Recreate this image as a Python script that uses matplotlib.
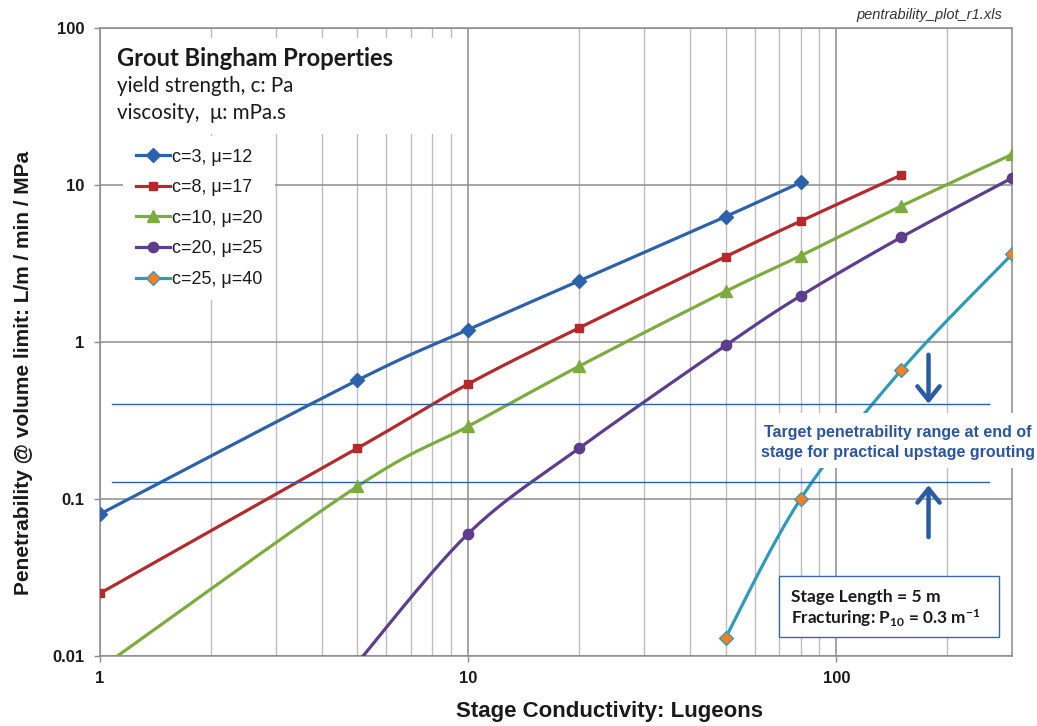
import numpy as np
import matplotlib
matplotlib.use("Agg")
import matplotlib.pyplot as plt
from matplotlib.patches import Rectangle, FancyArrowPatch
from matplotlib.ticker import LogLocator, FixedLocator, NullFormatter, FixedFormatter

plt.rcParams['font.family'] = ['Liberation Sans', 'DejaVu Sans']
plt.rcParams['mathtext.fontset'] = 'custom'
plt.rcParams['mathtext.bf'] = 'Lato:bold'
plt.rcParams['mathtext.rm'] = 'Lato:bold'
plt.rcParams['mathtext.default'] = 'bf'

# ---- data -------------------------------------------------------------
labels = ["c=3, \u03bc=12", "c=8, \u03bc=17", "c=10, \u03bc=20",
          "c=20, \u03bc=25", "c=25, \u03bc=40"]

x_c3 = [1, 5, 10, 20, 50, 80]
y_c3 = [0.08, 0.57, 1.2, 2.45, 6.3, 10.4]

x_c8 = [1, 5, 10, 20, 50, 80, 150]
y_c8 = [0.025, 0.21, 0.54, 1.23, 3.5, 5.9, 11.6]

x_c10 = [1, 5, 10, 20, 50, 80, 150, 300]
y_c10 = [0.0083, 0.12, 0.29, 0.70, 2.1, 3.55, 7.35, 15.7]

x_c20 = [5, 10, 20, 50, 80, 150, 300]
y_c20 = [0.009, 0.06, 0.21, 0.95, 1.97, 4.65, 11.1]

x_c25 = [50, 80, 150, 300]
y_c25 = [0.013, 0.1, 0.66, 3.63]

target_x = [1.08, 260]
target_upper = 0.40
target_lower = 0.128

x_ticks = [1, 10, 100]
x_ticklabels = ["1", "10", "100"]
y_ticks = [0.01, 0.1, 1, 10, 100]
y_ticklabels = ["0.01", "0.1", "1", "10", "100"]

# ---- styles -----------------------------------------------------------
series = [
    (x_c3, y_c3, dict(color='#2B62AB', marker='D', ms=7.2, mfc='#2B62AB', mec='#2B62AB')),
    (x_c8, y_c8, dict(color='#B42A2C', marker='s', ms=6.2, mfc='#B42A2C', mec='#B42A2C')),
    (x_c10, y_c10, dict(color='#7EAB3D', marker='^', ms=8.2, mfc='#7EAB3D', mec='#7EAB3D')),
    (x_c20, y_c20, dict(color='#5D3D8E', marker='o', ms=7.4, mfc='#5D3D8E', mec='#5D3D8E')),
    (x_c25, y_c25, dict(color='#2E9BB8', marker='D', ms=7.2, mfc='#F07F26', mec='#2E9BB8', mew=0.9)),
]


def smooth(xs, ys, n=40):
    """Excel-style smoothed line (Catmull-Rom Bezier) in log-log space."""
    lx = np.log10(xs)
    ly = np.log10(ys)
    P = np.column_stack([lx, ly])
    m = len(P)
    out = []
    for i in range(m - 1):
        p0 = P[i - 1] if i > 0 else P[i]
        p1 = P[i]
        p2 = P[i + 1]
        p3 = P[i + 2] if i + 2 < m else P[i + 1]
        c1 = p1 + (p2 - p0) / 6.0
        c2 = p2 - (p3 - p1) / 6.0
        t = np.linspace(0, 1, n)[:, None]
        seg = ((1 - t) ** 3) * p1 + 3 * ((1 - t) ** 2) * t * c1 + 3 * (1 - t) * t ** 2 * c2 + t ** 3 * p2
        out.append(seg if i == 0 else seg[1:])
    out = np.vstack(out)
    return 10 ** out[:, 0], 10 ** out[:, 1]


W, H = 1037, 726
fig = plt.figure(figsize=(W / 100, H / 100), dpi=100)
L, R, T, B = 100, 1012, 28.3, 655.7
ax = fig.add_axes([L / W, 1 - B / H, (R - L) / W, (B - T) / H])


def fx(px):
    return px / W


def fy(py):
    return 1 - py / H


ax.set_xscale('log')
ax.set_yscale('log')
ax.set_xlim(1, 300)
ax.set_ylim(0.01, 100)

# gridlines
ax.xaxis.set_major_locator(FixedLocator(x_ticks))
ax.xaxis.set_major_formatter(FixedFormatter(x_ticklabels))
ax.xaxis.set_minor_locator(LogLocator(base=10, subs=np.arange(2, 10), numticks=20))
ax.xaxis.set_minor_formatter(NullFormatter())
ax.yaxis.set_major_locator(FixedLocator(y_ticks))
ax.yaxis.set_major_formatter(FixedFormatter(y_ticklabels))
ax.yaxis.set_minor_locator(FixedLocator([]))
ax.grid(which='major', color='#8C8C8C', lw=1.1)
ax.grid(which='minor', axis='x', color='#BDBDBD', lw=1.0)
ax.set_axisbelow(True)
for s in ax.spines.values():
    s.set_color('#8C8C8C')
    s.set_linewidth(1.1)
ax.tick_params(which='major', length=4, width=1, color='#8C8C8C', labelsize=12, pad=7)
ax.tick_params(which='minor', length=0)
for lab in ax.get_xticklabels() + ax.get_yticklabels():
    lab.set_fontweight('bold')
    lab.set_color('#1A1A1A')

# series
for (xs, ys, st), lab in zip(series, labels):
    sx, sy = smooth(xs, ys)
    ax.plot(sx, sy, color=st['color'], lw=2.3, zorder=3, solid_capstyle='round')
    ax.plot(xs, ys, ls='none', marker=st['marker'], ms=st['ms'], mfc=st['mfc'],
            mec=st['mec'], mew=st.get('mew', 1), zorder=4)
    ax.plot([], [], color=st['color'], lw=2.3, marker=st['marker'], ms=st['ms'],
            mfc=st['mfc'], mec=st['mec'], mew=st.get('mew', 1), label=lab)

# target band lines
ax.plot(target_x, [target_upper] * 2, color='#2F5FA8', lw=1.0, zorder=3)
ax.plot(target_x, [target_lower] * 2, color='#2F5FA8', lw=1.0, zorder=3)

# arrows
arrow_kw = dict(arrowstyle='->,head_length=0.5,head_width=0.4', mutation_scale=20,
                color='#2A5CA5', lw=3.2, zorder=5, shrinkA=0, shrinkB=0)
ax.add_patch(FancyArrowPatch((178, 0.83), (178, target_upper * 1.01), **arrow_kw))
ax.add_patch(FancyArrowPatch((178, 0.057), (178, target_lower * 0.955), **arrow_kw))

# axis titles
ax.set_xlabel("Stage Conductivity: Lugeons", fontsize=16, fontweight='bold',
              color='#1A1A1A', va='center')
ax.xaxis.set_label_coords((610 - L) / (R - L), (B - 712) / (B - T))
ax.set_ylabel("Penetrability @ volume limit: L/m / min / MPa", fontsize=15,
              fontweight='bold', color='#1A1A1A', va='center')
ax.yaxis.set_label_coords((24 - L) / (R - L), (B - 373) / (B - T))

# header block
fig.patches.append(Rectangle((fx(104), fy(134)), fx(459) - fx(104), fy(38) - fy(134),
                             transform=fig.transFigure, fc='white', ec='none', zorder=2))
fig.text(fx(117), fy(59), "Grout Bingham Properties", fontsize=17.1, fontweight='bold',
         family=['Lato', 'DejaVu Sans'], va='center', ha='left', color='#1A1A1A')
fig.text(fx(117), fy(86), "yield strength, c: Pa", fontsize=14.8,
         family=['Lato', 'DejaVu Sans'], va='center', ha='left', color='#1A1A1A')
fig.text(fx(117), fy(113), "viscosity,  \u03bc: mPa.s", fontsize=14.8,
         family=['Lato', 'DejaVu Sans'], va='center', ha='left', color='#1A1A1A')

leg = ax.legend(loc='upper left', bbox_to_anchor=(fx(114), fy(127)),
                bbox_transform=fig.transFigure, frameon=True, fancybox=False,
                fontsize=13, handlelength=1.9, handletextpad=0.1, labelspacing=0.75,
                borderpad=0.7)
leg.get_frame().set_edgecolor('none')
leg.get_frame().set_facecolor('white')
leg.get_frame().set_alpha(1)
for t in leg.get_texts():
    t.set_color('#1A1A1A')

# target annotation box
fig.patches.append(Rectangle((fx(757), fy(468)), fx(1036) - fx(757), fy(413) - fy(468),
                             transform=fig.transFigure, fc='white', ec='none', zorder=6))
for txt, py in [("Target penetrability range at end of", 432),
                ("stage for practical upstage grouting", 453)]:
    fig.text(fx(898), fy(py), txt, fontsize=11.5, fontweight='bold',
             family=['Liberation Sans Narrow', 'Liberation Sans'], color='#2B55A3',
             ha='center', va='center', zorder=7)

# stage info box
fig.patches.append(Rectangle((fx(779), fy(637)), fx(999) - fx(779), fy(576) - fy(637),
                             transform=fig.transFigure, fc='white', ec='#3A67AE', lw=1.0,
                             zorder=6))
fig.text(fx(791), fy(597), "Stage Length = 5 m", fontsize=12.6, fontweight='bold',
         family=['Lato', 'DejaVu Sans'], color='#1A1A1A', ha='left', va='center', zorder=7)
fig.text(fx(791), fy(618), r"Fracturing: $P_{10}$ = 0.3 $m^{-1}$", fontsize=12.4,
         fontweight='bold', family=['Lato', 'DejaVu Sans'], color='#1A1A1A',
         ha='left', va='center', zorder=7)

fig.text(fx(1002), fy(15), "pentrability_plot_r1.xls", fontsize=10.5, style='italic',
         color='#333333', ha='right', va='center')

fig.savefig("out.png", dpi=100)
